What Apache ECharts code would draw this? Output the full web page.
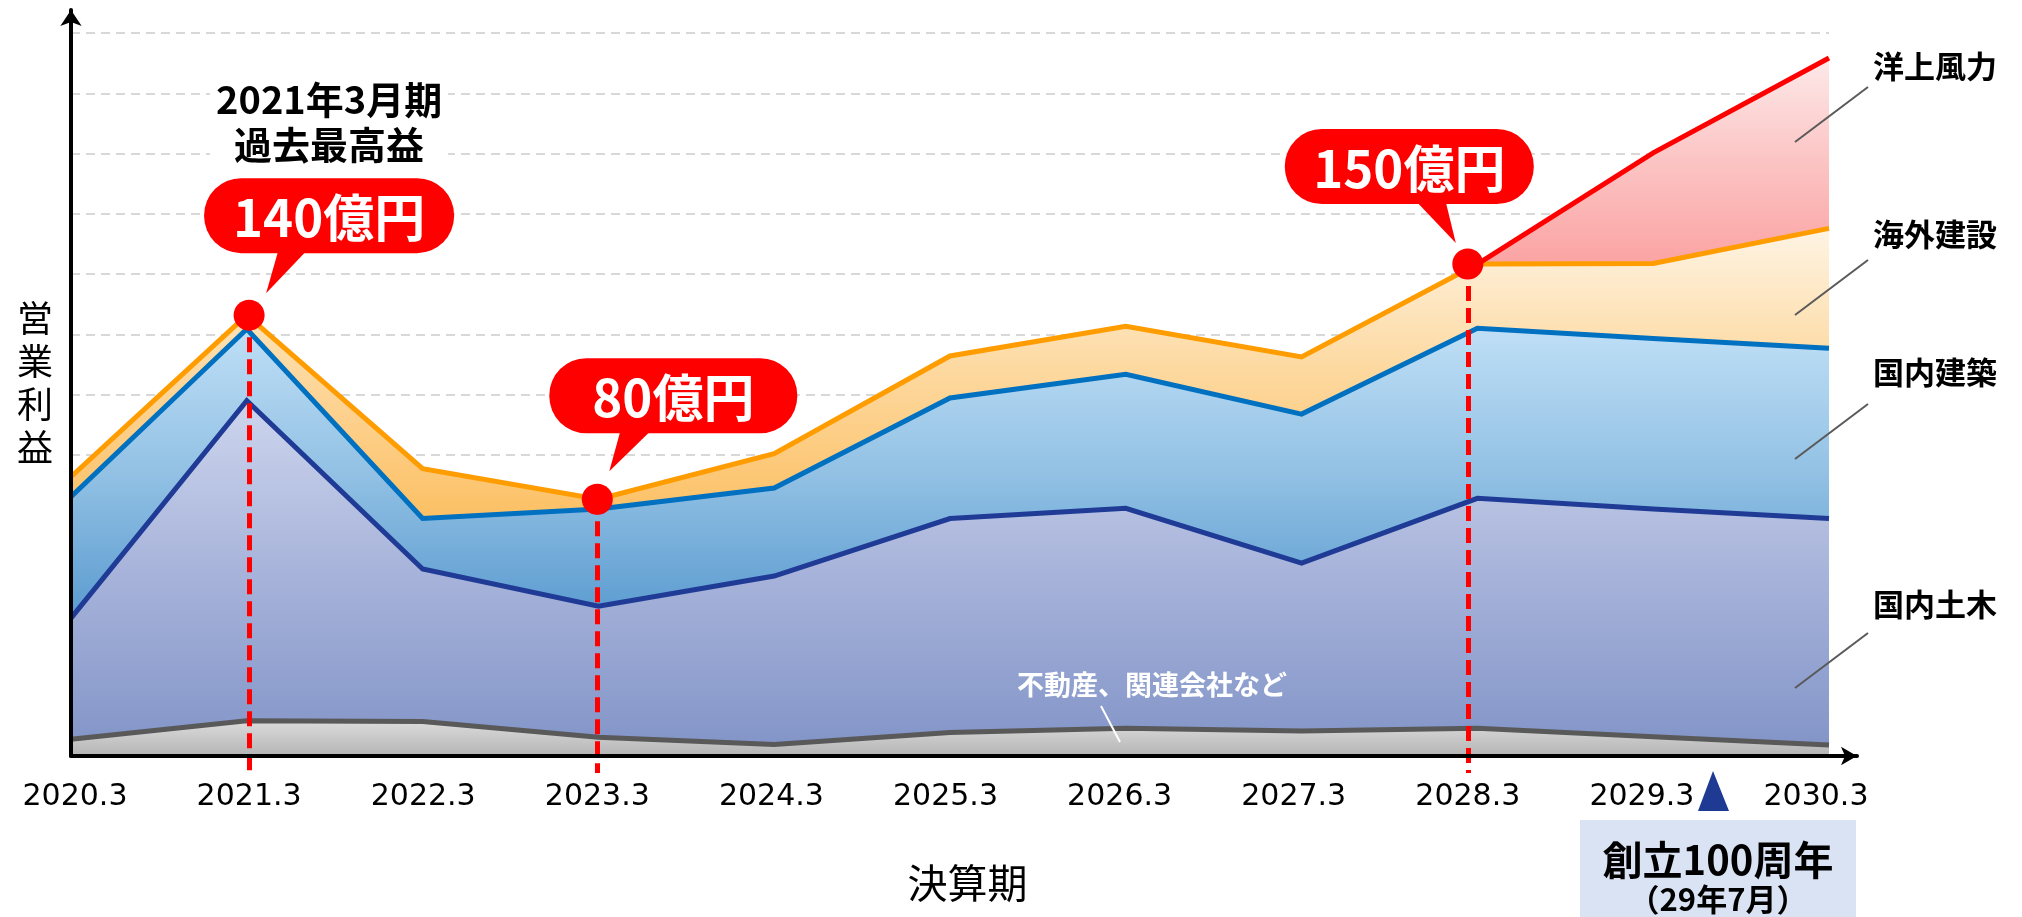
<!DOCTYPE html>
<html>
<head>
<meta charset="utf-8">
<title>営業利益</title>
<script src="https://cdn.jsdelivr.net/npm/echarts@6/dist/echarts.min.js"></script>
<style>
  html, body { margin: 0; padding: 0; background: #fff; }
  #chart { width: 2022px; height: 917px; }
</style>
</head>
<body>
<div id="chart"></div>
<script>
// 決算期
const categories = ['2020.3', '2021.3', '2022.3', '2023.3', '2024.3', '2025.3',
  '2026.3', '2027.3', '2028.3', '2029.3', '2030.3'];

// セグメント別 営業利益（億円・図から読み取り）
const otherProfit = [5.2, 11.0, 10.7, 5.8, 3.6, 7.3, 8.6, 7.8, 8.6, 6.0, 3.4];          // 不動産、関連会社など
const civilProfit = [37.7, 99.6, 47.5, 40.8, 52.4, 66.6, 68.5, 52.2, 71.6, 70.9, 70.5];  // 国内土木
const buildingProfit = [37.8, 22.3, 15.7, 30.3, 27.4, 37.5, 41.7, 46.4, 52.9, 53.0, 53.0]; // 国内建築
const overseasProfit = [6.2, 4.3, 15.5, 3.0, 10.7, 13.1, 14.9, 17.8, 20.0, 23.4, 37.3]; // 海外建設
const windProfit = ['-', '-', '-', '-', '-', '-', '-', '-', 0, 34.4, 53.0];              // 洋上風力

// 吹き出し
const highlightIdx = [1, 3, 8];
const highlightText = ['140億円', '80億円', '150億円'];

const FONT = '"Noto Sans CJK JP", "Noto Sans", sans-serif';
const Y_MAX = 225;
const Y_STEP = 18.75;
const Y_LOW = -5.29; // 破線を軸の下まで伸ばす分

const totals = categories.map((c, i) => {
  const w = typeof windProfit[i] === 'number' ? windProfit[i] : 0;
  return otherProfit[i] + civilProfit[i] + buildingProfit[i] + overseasProfit[i] + w;
});

function grad(stops) {
  return new echarts.graphic.LinearGradient(0, 0, 0, 1,
    stops.map((c, i) => ({ offset: i / (stops.length - 1), color: c })));
}

function layer(name, data, lineColor, areaColors) {
  return {
    name: name,
    type: 'line',
    stack: 'total',
    xAxisIndex: 0,
    yAxisIndex: 0,
    data: data,
    symbol: 'none',
    silent: true,
    lineStyle: { color: lineColor, width: 5, join: 'miter' },
    areaStyle: { color: grad(areaColors), opacity: 1 },
  };
}

const chart = echarts.init(document.getElementById('chart'));

const option = {
  animation: false,
  backgroundColor: '#fff',
  grid: [
    // データ用
    { left: 71, top: 33, width: 1758, height: 723, outerBoundsMode: 'none' },
    // 矢印付きの軸
    { left: 71, top: 10, width: 1786, height: 746, outerBoundsMode: 'none' },
    // 目盛ラベル・吹き出し用
    { left: 75, top: 33, width: 1741, height: 740, outerBoundsMode: 'none' },
  ],
  xAxis: [
    {
      gridIndex: 0, type: 'category', boundaryGap: false, data: categories, show: false,
    },
    {
      gridIndex: 1, type: 'value', min: 0, max: 1,
      axisLine: {
        show: true, symbol: ['none', 'arrow'], symbolSize: [14, 16],
        lineStyle: { color: '#000', width: 4 },
      },
      axisTick: { show: false }, axisLabel: { show: false }, splitLine: { show: false },
      z: 10,
    },
    {
      gridIndex: 2, type: 'category', boundaryGap: false, data: categories,
      axisLine: { show: false }, axisTick: { show: false },
      axisLabel: { color: '#000', fontSize: 30, fontFamily: 'DejaVu Sans', margin: 9 },
      name: '決算期', nameLocation: 'middle', nameGap: 90,
      nameTextStyle: { color: '#000', fontSize: 40, fontFamily: FONT, padding: [0, 0, 0, 44] },
    },
  ],
  yAxis: [
    {
      gridIndex: 0, type: 'value', min: 0, max: Y_MAX, interval: Y_STEP,
      axisLine: { show: false }, axisTick: { show: false }, axisLabel: { show: false },
      splitLine: { show: true, lineStyle: { color: 'rgba(100,100,100,0.25)', width: 2, type: [9, 6] } },
      z: 3,
    },
    {
      gridIndex: 1, type: 'value', min: 0, max: 1,
      axisLine: {
        show: true, symbol: ['none', 'arrow'], symbolSize: [16, 16],
        lineStyle: { color: '#000', width: 4 },
      },
      axisTick: { show: false }, axisLabel: { show: false }, splitLine: { show: false },
      name: '営\n業\n利\n益', nameLocation: 'middle', nameRotate: 0, nameGap: 18,
      nameTextStyle: { color: '#000', fontSize: 36, lineHeight: 43, fontFamily: FONT },
      z: 10,
    },
    {
      gridIndex: 2, type: 'value', min: Y_LOW, max: Y_MAX, show: false,
    },
  ],
  series: [
    layer('不動産、関連会社など', otherProfit, '#595959', ['#dcdcdc', '#b4b4b4']),
    layer('国内土木', civilProfit, '#1f3b96', ['#cdd5ed', '#a7b3da', '#8395c8']),
    layer('国内建築', buildingProfit, '#0070c0', ['#bfdff6', '#92c1e4', '#5b9bd0']),
    layer('海外建設', overseasProfit, '#ff9c00', ['#fef4e4', '#fdd89e', '#fcc064']),
    layer('洋上風力', windProfit, '#ff0000', ['#fde9e9', '#fcc4c4', '#fba3a3']),
    {
      type: 'scatter',
      xAxisIndex: 2,
      yAxisIndex: 2,
      data: highlightIdx.map(i => [i, totals[i]]),
      symbolSize: 31,
      itemStyle: { color: '#ff0000', opacity: 1 },
      silent: true,
      z: 6,
      markLine: {
        silent: true,
        symbol: 'none',
        z: 5,
        label: { show: false },
        lineStyle: { color: '#ff0000', width: 5, type: [15, 7], opacity: 1 },
        data: highlightIdx.map(i => [{ coord: [i, totals[i]] }, { coord: [i, Y_LOW] }]),
      },
    },
  ],
};

chart.setOption(option);

// 吹き出しの形（丸の中心からの相対位置）
const bubbleLayout = [
  { box: [-45, -137, 250, 75], tip: [[29, -64], [57, -64], [17, -22]] },
  { box: [-48, -141, 248, 75], tip: [[23, -68], [53, -68], [12, -28]] },
  { box: [-183, -135, 249, 75], tip: [[-51, -62], [-22, -62], [-12, -21]] },
];

const graphics = [];
highlightIdx.forEach((idx, k) => {
  const p = chart.convertToPixel({ seriesIndex: 5 }, [idx, totals[idx]]);
  const b = bubbleLayout[k];
  graphics.push({
    type: 'rect', z: 20, silent: true,
    shape: { x: p[0] + b.box[0], y: p[1] + b.box[1], width: b.box[2], height: b.box[3], r: 37 },
    style: { fill: '#ff0000' },
  });
  graphics.push({
    type: 'polygon', z: 20, silent: true,
    shape: { points: b.tip.map(t => [p[0] + t[0], p[1] + t[1]]) },
    style: { fill: '#ff0000' },
  });
  graphics.push({
    type: 'text', z: 21, silent: true,
    x: p[0] + b.box[0] + b.box[2] / 2,
    y: p[1] + b.box[1] + b.box[3] / 2 + 2,
    style: {
      text: highlightText[k], fill: '#fff', font: 'bold 51px ' + FONT,
      align: 'center', verticalAlign: 'middle',
    },
  });
  if (k === 0) {
    graphics.push({
      type: 'text', z: 21, silent: true,
      x: p[0] + 80, y: p[1] - 193,
      style: {
        text: '2021年3月期\n過去最高益', fill: '#000', font: 'bold 38px ' + FONT,
        lineHeight: 45, align: 'center', verticalAlign: 'middle',
        backgroundColor: '#fff', padding: [0, 6],
      },
    });
  }
});

// 右側のセグメント名と引出線
const sideLabels = [
  ['洋上風力', 66, 87],
  ['海外建設', 234, 260],
  ['国内建築', 372, 404],
  ['国内土木', 604, 633],
];
sideLabels.forEach(s => {
  graphics.push({
    type: 'text', silent: true, x: 1873, y: s[1],
    style: { text: s[0], fill: '#000', font: 'bold 31px ' + FONT, align: 'left', verticalAlign: 'middle' },
  });
  graphics.push({
    type: 'line', silent: true, z: 10,
    shape: { x1: 1868, y1: s[2], x2: 1795, y2: s[2] + 55 },
    style: { stroke: '#595959', lineWidth: 2 },
  });
});

// 不動産、関連会社など
graphics.push({
  type: 'text', silent: true, z: 10, x: 1152, y: 685,
  style: { text: '不動産、関連会社など', fill: '#fff', font: 'bold 27px ' + FONT, align: 'center', verticalAlign: 'middle' },
});
graphics.push({
  type: 'line', silent: true, z: 10,
  shape: { x1: 1101, y1: 706, x2: 1120, y2: 742 },
  style: { stroke: '#fff', lineWidth: 2 },
});

// 創立100周年
graphics.push({
  type: 'polygon', silent: true,
  shape: { points: [[1698, 811], [1729, 811], [1713, 771]] },
  style: { fill: '#1f3a93' },
});
graphics.push({
  type: 'rect', silent: true,
  shape: { x: 1580, y: 820, width: 276, height: 97 },
  style: { fill: '#dae3f3' },
});
graphics.push({
  type: 'text', silent: true, x: 1718, y: 860,
  style: { text: '創立100周年', fill: '#000', font: 'bold 40px ' + FONT, align: 'center', verticalAlign: 'middle' },
});
graphics.push({
  type: 'text', silent: true, x: 1718, y: 899,
  style: { text: '（29年7月）', fill: '#000', font: 'bold 31px ' + FONT, align: 'center', verticalAlign: 'middle' },
});

chart.setOption({ graphic: { elements: graphics } });

window.addEventListener('resize', () => chart.resize());
</script>
</body>
</html>
